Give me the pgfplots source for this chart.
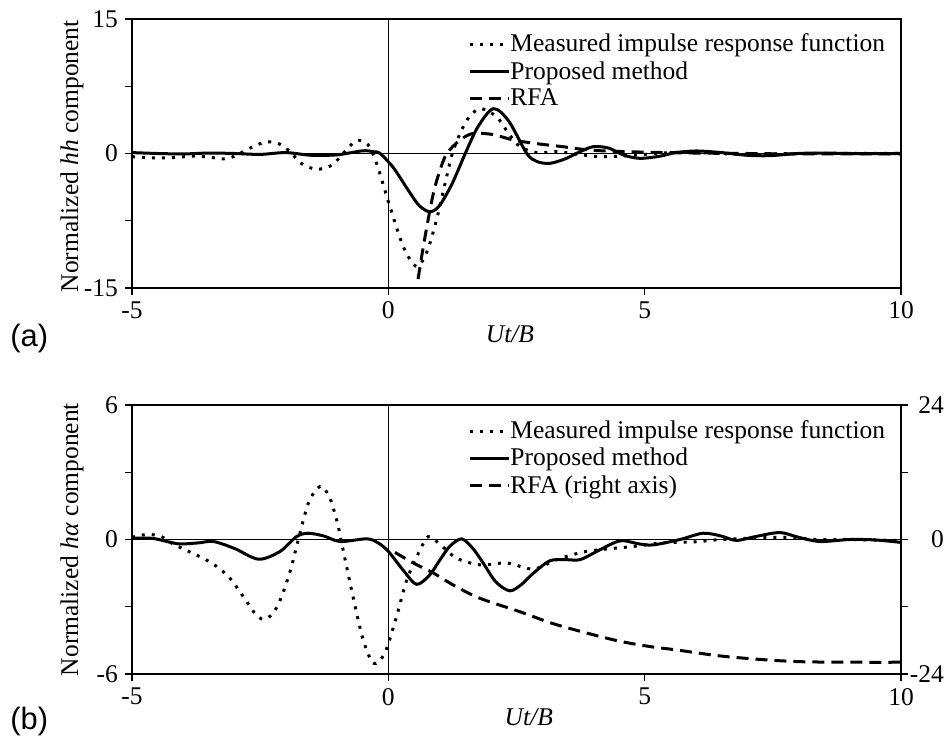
\documentclass[border=0pt]{standalone}
\usepackage{pgfplots}
\pgfplotsset{compat=1.18}
\usepackage{fontspec}
\setmainfont{Liberation Serif}
\newfontfamily\arialfont{Liberation Sans}

\newcommand{\figfont}{\fontsize{12.8}{15}\selectfont}

\pgfplotsset{
  panel/.style={
    scale only axis,
    width=384.5bp, height=134.5bp,
    xmin=-5, xmax=10,
    xtick={-5,0,5,10}, xticklabels={-5,0,5,10},
    xtick pos=left, ytick pos=left,
    tick align=outside,
    major tick length=3.5bp,
    tick style={black, line width=0.6bp},
    axis line style={line width=1.1bp},
    ticklabel style={font=\figfont},
    label style={font=\figfont},
    xlabel={\textit{Ut/B}},
    legend style={draw=none, fill=none, font=\figfont,
      anchor=north west, inner sep=0pt, row sep=1.25bp,
      nodes={inner sep=1bp},
      /tikz/every odd column/.append style={column sep=-1bp}},
    legend cell align=left,
    legend image code/.code={\draw[##1] (0bp,0bp) -- (19.5bp,0bp);},
  },
  meas/.style={black, line width=1.5bp, dash pattern=on 1.5bp off 3.5bp, smooth},
  prop/.style={black, line width=1.5bp, smooth},
  rfa/.style={black, line width=1.5bp, dash pattern=on 6bp off 3.5bp, smooth},
}

\begin{document}
\begin{tikzpicture}
\useasboundingbox (0,0) rectangle (473.5bp,368.5bp);

% ---------- panel (a) ----------
\begin{axis}[panel,
  at={(66bp,224.5bp)}, anchor=south west,
  ymin=-15, ymax=15,
  ytick={-15,-7.5,0,7.5,15}, yticklabels={-15,,0,,15},
  ylabel={Normalized \textit{hh} component},
  ylabel style={at={(axis description cs:-0.078,0.49)}, anchor=center},
  xlabel style={at={(axis description cs:0.4915,-0.171)}, anchor=center},
  legend style={at={(axis description cs:0.437,0.953)}},
]
\draw[line width=0.5bp] (axis cs:0,-15) -- (axis cs:0,15);
\draw[line width=0.5bp] (axis cs:-5,0) -- (axis cs:10,0);

% measured impulse response
\addplot[meas] coordinates {
  (-5,-0.35)(-4.6,-0.5)(-4.2,-0.45)(-3.8,-0.3)(-3.5,-0.4)(-3.22,-0.6)(-3.0,-0.3)
  (-2.7,0.6)(-2.45,1.2)(-2.31,1.3)(-2.1,1.0)(-1.9,0.1)(-1.7,-1.1)(-1.4,-1.76)
  (-1.1,-1.3)(-0.85,0.2)(-0.62,1.43)(-0.4,1.0)(-0.23,-1.1)(0.03,-5.9)(0.3,-10.5)
  (0.55,-12.6)(0.75,-11)(0.94,-7.4)(1.1,-3.5)(1.27,0.4)(1.53,3.7)(1.79,5.0)
  (2.11,4.1)(2.35,2.2)(2.57,0.76)(2.9,0.1)(3.3,0.2)(3.7,-0.1)(4.1,-0.35)
  (4.5,-0.3)(5,-0.1)(5.5,0.1)(6,0.1)(7,-0.1)(8,0.0)(9,0.0)(10,0.0)
};
\addlegendentry{Measured impulse response function}

% proposed method
\addplot[prop] coordinates {
  (-5,0.1)(-4.5,0.0)(-4,-0.05)(-3.5,0.05)(-3,0.0)(-2.5,-0.1)(-2,0.1)(-1.5,-0.2)
  (-1.0,-0.15)(-0.5,0.3)(-0.3,0.2)(-0.16,0)(0.1,-1.6)(0.4,-4.2)(0.6,-5.8)
  (0.81,-6.5)(1.0,-5.8)(1.25,-3.3)(1.5,0)(1.75,3.0)(2.05,5.0)(2.35,3.6)(2.7,0)
  (2.9,-0.9)(3.15,-1.1)(3.45,-0.6)(3.74,0.2)(4.0,0.76)(4.3,0.6)(4.6,-0.2)
  (4.91,-0.54)(5.3,-0.3)(5.6,0.1)(6.01,0.28)(6.5,0.1)(7,-0.2)(7.44,-0.24)
  (8,0.0)(8.5,0.05)(9,0)(10,0)
};
\addlegendentry{Proposed method}

% RFA
\addplot[rfa] coordinates {
  (0.58,-14)(0.65,-11.5)(0.75,-8.2)(0.88,-4.4)(1.0,-2.0)(1.14,0)(1.4,1.5)
  (1.66,2.25)(2.05,2.1)(2.44,1.5)(2.89,1.1)(3.4,0.76)(4.0,0.35)(5,0.15)
  (6,0.05)(7,0.0)(8,-0.05)(10,-0.05)
};
\addlegendentry{RFA}
\end{axis}

% ---------- panel (b), left axis ----------
\begin{axis}[panel,
  at={(66bp,31.5bp)}, anchor=south west,
  ymin=-6, ymax=6,
  ytick={-6,-3,0,3,6}, yticklabels={-6,,0,,6},
  ylabel={Normalized \textit{hα} component},
  ylabel style={at={(axis description cs:-0.078,0.5)}, anchor=center},
  xlabel style={at={(axis description cs:0.516,-0.162)}, anchor=center},
  legend style={at={(axis description cs:0.437,0.95)}},
]
\draw[line width=0.5bp] (axis cs:0,-6) -- (axis cs:0,6);
\draw[line width=0.5bp] (axis cs:-5,0) -- (axis cs:10,0);

\addplot[meas] coordinates {
  (-5,0.1)(-4.8,0.2)(-4.58,0.21)(-4.4,0.1)(-4.2,-0.2)(-3.93,-0.49)(-3.6,-0.85)
  (-3.35,-1.2)(-3.1,-1.7)(-2.83,-2.54)(-2.6,-3.3)(-2.44,-3.56)(-2.25,-3.3)
  (-2.08,-2.54)(-1.9,-1.3)(-1.79,-0.31)(-1.56,1.62)(-1.33,2.37)(-1.15,1.9)
  (-1.0,0.8)(-0.91,-0.16)(-0.69,-2.54)(-0.49,-4.48)(-0.29,-5.52)(-0.07,-5.07)
  (0.16,-3.44)(0.36,-1.8)(0.62,-0.46)(0.78,0.13)(1.0,-0.2)(1.33,-0.83)
  (1.79,-1.13)(2.31,-1.05)(2.83,-1.32)(3.28,-0.9)(3.87,-0.53)(4.78,-0.31)
  (5.36,-0.15)(6.0,-0.1)(6.5,0.0)(7.6,0.1)(8.4,0.0)(9,0.0)(10,-0.05)
};
\addlegendentry{Measured impulse response function}

\addplot[prop] coordinates {
  (-5,0.06)(-4.6,0.05)(-4.3,-0.1)(-4.06,-0.2)(-3.7,-0.15)(-3.41,-0.09)(-3.0,-0.4)
  (-2.53,-0.88)(-2.11,-0.53)(-1.79,0.13)(-1.56,0.28)(-1.25,0.15)(-0.94,-0.09)
  (-0.42,0.03)(-0.2,-0.15)(0.0,-0.53)(0.3,-1.4)(0.55,-2.0)(0.8,-1.6)(1.01,-0.9)
  (1.2,-0.3)(1.43,0.03)(1.65,-0.4)(1.85,-1.05)(2.1,-1.9)(2.37,-2.29)(2.6,-2.0)
  (2.83,-1.5)(3.15,-0.95)(3.45,-0.9)(3.74,-0.9)(4.05,-0.55)(4.39,-0.16)
  (4.58,-0.05)(4.9,-0.2)(5.17,-0.24)(5.69,0.0)(6.14,0.28)(6.5,0.15)(6.79,-0.04)
  (7.2,0.15)(7.64,0.31)(8.0,0.1)(8.42,-0.09)(9.0,0.0)(9.5,-0.02)(10,-0.13)
};
\addlegendentry{Proposed method}

\addlegendimage{rfa}
\addlegendentry{RFA (right axis)}
\end{axis}

% ---------- panel (b), right axis ----------
\begin{axis}[panel,
  at={(66bp,31.5bp)}, anchor=south west,
  axis x line=none, axis y line*=right,
  xlabel={}, ylabel={},
  ymin=-24, ymax=24,
  ytick={-24,-12,0,12,24}, yticklabels={-24,,0,,24},
  ytick pos=right,
  yticklabel style={anchor=east, xshift=21.4bp},
]
\addplot[rfa] coordinates {
  (0.13,-2.3)(0.49,-4.2)(0.88,-6.0)(1.3,-8.3)(1.79,-10.5)(2.57,-12.9)
  (3.28,-15.2)(4.39,-17.9)(5.1,-19.1)(5.62,-19.7)(6.6,-20.9)(8.03,-21.8)(10,-21.9)
};
\end{axis}

\node[anchor=west, inner sep=0pt, font=\arialfont\fontsize{15.5}{18}\selectfont] at (5bp,199bp) {(a)};
\node[anchor=west, inner sep=0pt, font=\arialfont\fontsize{15.5}{18}\selectfont] at (5bp,7.5bp) {(b)};
\end{tikzpicture}
\end{document}
